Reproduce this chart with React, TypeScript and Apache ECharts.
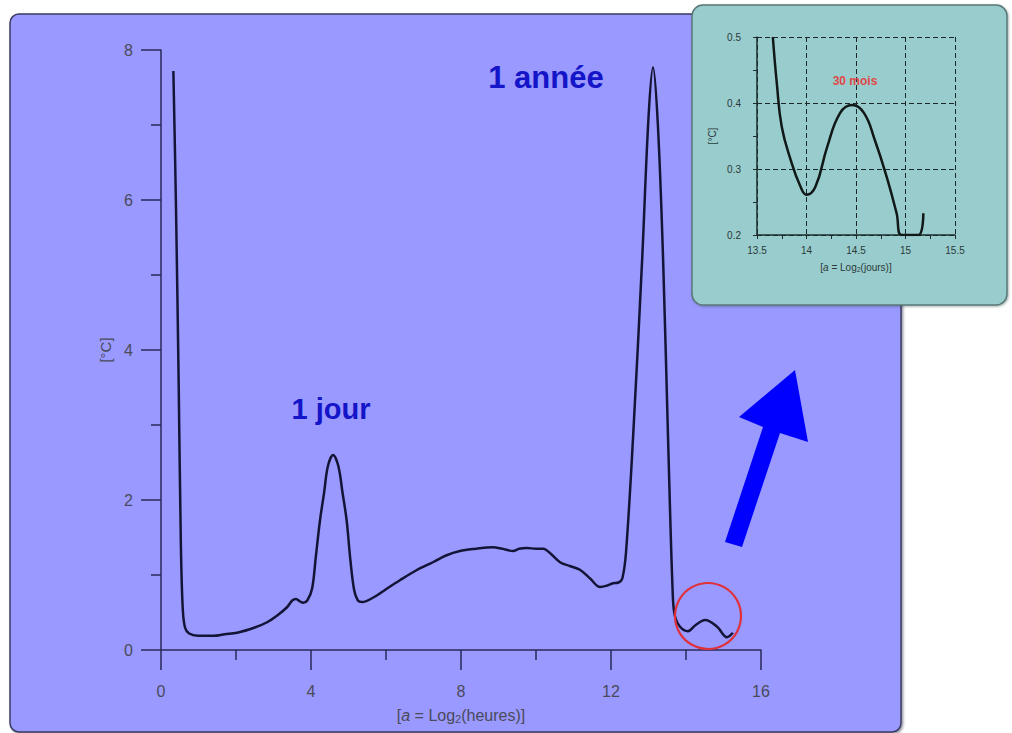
import React, { useEffect, useRef } from "react";
import * as echarts from "echarts";

// Main spectrum: a = log2(hours) vs amplitude [°C]
const mainX = [0.33, 0.40, 0.47, 0.53, 0.58, 0.64, 0.75, 0.99, 1.4, 1.7, 2.03, 2.5, 2.83, 3.1, 3.36, 3.5, 3.6, 3.7, 3.79, 3.9, 4.03, 4.13, 4.24, 4.35, 4.45, 4.59, 4.73, 4.84, 4.95, 5.05, 5.15, 5.25, 5.36, 5.7, 6.0, 6.37, 6.8, 7.25, 7.6, 7.97, 8.4, 8.85, 9.1, 9.39, 9.55, 9.76, 10.0, 10.19, 10.4, 10.64, 10.9, 11.17, 11.45, 11.71, 11.9, 12.05, 12.2, 12.3, 12.4, 12.59, 12.83, 13.0, 13.12, 13.25, 13.39, 13.52, 13.65, 13.71, 13.84, 14.05, 14.25, 14.51, 14.83, 15.09, 15.25];
const mainY = [7.72, 5.9, 3.6, 1.4, 0.55, 0.3, 0.22, 0.19, 0.19, 0.21, 0.23, 0.3, 0.37, 0.46, 0.57, 0.66, 0.68, 0.65, 0.63, 0.66, 0.82, 1.25, 1.73, 2.1, 2.45, 2.6, 2.45, 2.1, 1.73, 1.2, 0.8, 0.66, 0.64, 0.71, 0.81, 0.93, 1.06, 1.17, 1.26, 1.32, 1.35, 1.37, 1.35, 1.32, 1.35, 1.36, 1.35, 1.35, 1.28, 1.17, 1.12, 1.07, 0.95, 0.84, 0.86, 0.89, 0.9, 0.95, 1.3, 2.85, 5.2, 7.1, 7.77, 7.0, 5.2, 2.85, 0.7, 0.44, 0.31, 0.25, 0.33, 0.4, 0.31, 0.17, 0.23];

// Inset: a = log2(days) vs amplitude [°C]
const insetX = [13.66, 13.70, 13.75, 13.84, 13.94, 14.0, 14.09, 14.21, 14.34, 14.46, 14.58, 14.69, 14.81, 14.91, 14.96, 15.13, 15.18];
const insetY = [0.5, 0.43, 0.364, 0.314, 0.273, 0.261, 0.273, 0.334, 0.385, 0.397, 0.385, 0.344, 0.288, 0.233, 0.2, 0.2, 0.233];

const labelMain1 = "1 jour";
const labelMain2 = "1 année";
const labelInset = "30 mois";

export default function App() {
  const ref = useRef<HTMLDivElement>(null);
  useEffect(() => {
    document.body.style.margin = "0";
    const chart = echarts.init(ref.current!, null, { renderer: "svg" });
    const font = "'Liberation Sans', Arial, sans-serif";
    const axisColor = "#2a2a58";
    const labelColor = "#4a4a5a";
    const mainData = mainX.map((x, i) => [x, mainY[i]]);
    const insetData = insetX.map((x, i) => [x, insetY[i]]);

    const option: any = {
      animation: false,
      backgroundColor: "#ffffff",
      textStyle: { fontFamily: font },
      grid: [
        { left: 161, top: 50, width: 600, height: 600 },
        { left: 757, top: 37, width: 198, height: 198 },
      ],
      xAxis: [
        {
          gridIndex: 0, type: "value", min: 0, max: 16, interval: 4,
          axisLine: { onZero: false, lineStyle: { color: axisColor, width: 1.5 } },
          axisTick: { length: 20, lineStyle: { color: axisColor, width: 1.5 } },
          minorTick: { show: true, splitNumber: 2, length: 10, lineStyle: { color: axisColor, width: 1.5 } },
          splitLine: { show: false },
          axisLabel: { margin: 33, fontSize: 16, color: labelColor, fontFamily: font },
          name: "[{i|a} = Log{sub|2}(heures)]",
          nameLocation: "middle", nameGap: 56,
          nameTextStyle: {
            fontSize: 16, color: labelColor, fontFamily: font, lineHeight: 18,
            rich: {
              i: { fontStyle: "italic", fontSize: 16, color: labelColor, fontFamily: font, lineHeight: 18 },
              sub: { fontSize: 11, color: labelColor, fontFamily: font, lineHeight: 6, verticalAlign: "bottom" },
            },
          },
        },
        {
          gridIndex: 1, type: "value", min: 13.5, max: 15.5, interval: 0.5,
          axisLine: { onZero: false, lineStyle: { color: "#1e2e2e", width: 1.5 } },
          axisTick: { length: 4, lineStyle: { color: "#1e2e2e" } },
          minorTick: { show: true, splitNumber: 2, length: 4, lineStyle: { color: "#1e2e2e" } },
          splitLine: { show: true, lineStyle: { color: "#1a2a2a", type: [5, 3], width: 1 } },
          axisLabel: { margin: 10, fontSize: 10, color: "#2a3a3a", fontFamily: font },
          name: "[{i|a} = Log{sub|2}(jours)]",
          nameLocation: "middle", nameGap: 26,
          nameTextStyle: {
            fontSize: 10, color: "#2a3a3a", fontFamily: font, lineHeight: 12,
            rich: {
              i: { fontStyle: "italic", fontSize: 10, color: "#2a3a3a", fontFamily: font, lineHeight: 12 },
              sub: { fontSize: 7, color: "#2a3a3a", fontFamily: font, lineHeight: 4, verticalAlign: "bottom" },
            },
          },
        },
      ],
      yAxis: [
        {
          gridIndex: 0, type: "value", min: 0, max: 8, interval: 2,
          axisLine: { show: true, onZero: false, lineStyle: { color: axisColor, width: 1.5 } },
          axisTick: { show: true, length: 20, lineStyle: { color: axisColor, width: 1.5 } },
          minorTick: { show: true, splitNumber: 2, length: 10, lineStyle: { color: axisColor, width: 1.5 } },
          splitLine: { show: false },
          axisLabel: { margin: 28, fontSize: 16, color: labelColor, fontFamily: font },
          name: "[°C]", nameLocation: "middle", nameGap: 48,
          nameTextStyle: { fontSize: 15, color: labelColor, fontFamily: font },
        },
        {
          gridIndex: 1, type: "value", min: 0.2, max: 0.5, interval: 0.1,
          axisLine: { show: true, onZero: false, lineStyle: { color: "#1e2e2e", width: 1.5 } },
          axisTick: { show: true, length: 4, lineStyle: { color: "#1e2e2e" } },
          minorTick: { show: true, splitNumber: 2, length: 4, lineStyle: { color: "#1e2e2e" } },
          splitLine: { show: true, lineStyle: { color: "#1a2a2a", type: [5, 3], width: 1 } },
          axisLabel: { margin: 16, fontSize: 10, color: "#2a3a3a", fontFamily: font },
          name: "[°C]", nameLocation: "middle", nameGap: 40,
          nameTextStyle: { fontSize: 10, color: "#2a3a3a", fontFamily: font },
        },
      ],
      graphic: [
        {
          type: "rect", z: -20, silent: true,
          shape: { x: 10, y: 14, width: 891, height: 718, r: 9 },
          style: { fill: "#9999ff", stroke: "#3c3c62", lineWidth: 1.5, shadowColor: "rgba(40,40,80,0.5)", shadowOffsetX: 1.5, shadowOffsetY: 1.5, shadowBlur: 2 },
        },
        {
          type: "rect", z: -10, silent: true,
          shape: { x: 692, y: 5, width: 315, height: 300, r: 11 },
          style: { fill: "#99cccc", stroke: "#5a7878", lineWidth: 1.5, shadowColor: "rgba(40,60,60,0.4)", shadowOffsetX: 1, shadowOffsetY: 1, shadowBlur: 2 },
        },
        {
          type: "polygon", z: 5, silent: true,
          shape: { points: [[725, 542], [763, 427], [739, 417], [795, 370], [808, 442], [780, 433], [742, 547]] },
          style: { fill: "#0000ff" },
        },
        {
          type: "circle", z: 5, silent: true,
          shape: { cx: 708, cy: 616, r: 33 },
          style: { fill: "none", stroke: "#e0303a", lineWidth: 2.2 },
        },
        {
          type: "text", z: 5, silent: true,
          style: { text: labelMain2, x: 546, y: 77, align: "center", verticalAlign: "middle", fill: "#1414c8", font: `bold 31px ${font}` },
        },
        {
          type: "text", z: 5, silent: true,
          style: { text: labelMain1, x: 331, y: 409, align: "center", verticalAlign: "middle", fill: "#1414c8", font: `bold 29px ${font}` },
        },
        {
          type: "text", z: 5, silent: true,
          style: { text: labelInset, x: 855, y: 81, align: "center", verticalAlign: "middle", fill: "#e04848", font: `bold 12px ${font}` },
        },
      ],
      series: [
        {
          type: "line", xAxisIndex: 0, yAxisIndex: 0, data: mainData,
          showSymbol: false, smooth: 0.35,
          lineStyle: { color: "#141436", width: 2.5 },
        },
        {
          type: "line", xAxisIndex: 1, yAxisIndex: 1, data: insetData,
          showSymbol: false, smooth: 0.45,
          lineStyle: { color: "#111818", width: 2.5 },
        },
      ],
    };
    chart.setOption(option);
    return () => chart.dispose();
  }, []);
  return <div ref={ref} style={{ width: 1012, height: 733 }} />;
}
